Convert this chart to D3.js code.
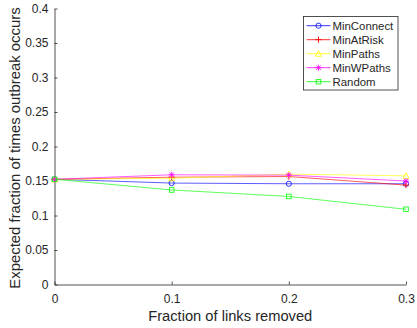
<!DOCTYPE html>
<html>
<head>
<meta charset="utf-8">
<script src="https://cdn.jsdelivr.net/npm/d3@7"></script>
<style>
  body { margin: 0; background: #fff; }
  svg text { font-family: "Liberation Sans", Arial, Helvetica, sans-serif; fill: #262626; }
</style>
</head>
<body>
<svg id="chart" width="417" height="328"></svg>
<script>
// Fraction of links removed
const fractions = [0, 0.1, 0.2, 0.3];

// Expected fraction of times outbreak occurs, per strategy
const minConnect = [0.1525, 0.147, 0.146, 0.146];
const minAtRisk  = [0.1525, 0.1555, 0.1565, 0.144];
const minPaths   = [0.1525, 0.154, 0.160, 0.1575];
const minWPaths  = [0.1525, 0.159, 0.1585, 0.150];
const randomRm   = [0.1525, 0.137, 0.1276, 0.109];

const seriesNames = ["MinConnect", "MinAtRisk", "MinPaths", "MinWPaths", "Random"];
const seriesValues = [minConnect, minAtRisk, minPaths, minWPaths, randomRm];
const seriesColors = ["#0000ff", "#ff0000", "#ffff00", "#ff00ff", "#00ff00"];
const seriesMarkers = ["circle", "plus", "triangle", "star", "square"];

const xTicks = [0, 0.1, 0.2, 0.3];
const yTicks = [0, 0.05, 0.1, 0.15, 0.2, 0.25, 0.3, 0.35, 0.4];

const svg = d3.select("#chart");
const plotLeft = 54.5, plotRight = 406, plotTop = 8.5, plotBottom = 284.5;

const x = d3.scaleLinear().domain([0, 0.3]).range([plotLeft, plotRight]);
const y = d3.scaleLinear().domain([0, 0.4]).range([plotBottom, plotTop]);

// Axes with inward ticks
const axisColor = "#262626";
const xAxis = d3.axisBottom(x).tickValues(xTicks).tickSizeInner(-3).tickSizeOuter(0)
  .tickPadding(9.5).tickFormat(d => d === 0 ? "0" : d3.format(".1f")(d));
const yAxis = d3.axisLeft(y).tickValues(yTicks).tickSizeInner(-3).tickSizeOuter(0)
  .tickPadding(6).tickFormat(d => d === 0 ? "0" : String(+d.toFixed(2)));

const gx = svg.append("g").attr("transform", `translate(0,${plotBottom})`).call(xAxis);
const gy = svg.append("g").attr("transform", `translate(${plotLeft},0)`).call(yAxis);
[gx, gy].forEach(g => {
  g.selectAll("path, line").attr("stroke", axisColor).attr("stroke-width", 0.8);
  g.selectAll("text").attr("font-size", 12).attr("fill", axisColor)
    .style("font-family", "'Liberation Sans', Arial, sans-serif");
});

// Axis labels
svg.append("text").attr("x", (plotLeft + plotRight) / 2).attr("y", 321)
  .attr("text-anchor", "middle").attr("font-size", 14.7).text("Fraction of links removed");
svg.append("text").attr("transform", `translate(19.5,${(plotTop + plotBottom) / 2 + 1.5}) rotate(-90)`)
  .attr("text-anchor", "middle").attr("font-size", 14.9).text("Expected fraction of times outbreak occurs");

// Marker drawing
function drawMarker(g, type, cx, cy, color) {
  const s = 2.6;
  if (type === "circle") {
    g.append("circle").attr("cx", cx).attr("cy", cy).attr("r", s)
      .attr("fill", "none").attr("stroke", color).attr("stroke-width", 0.8);
  } else if (type === "square") {
    g.append("rect").attr("x", cx - s + 0.3).attr("y", cy - s + 0.3).attr("width", 2 * s - 0.6).attr("height", 2 * s - 0.6)
      .attr("fill", "none").attr("stroke", color).attr("stroke-width", 0.8);
  } else if (type === "triangle") {
    g.append("path").attr("d", `M${cx},${cy - s - 0.5}L${cx + s + 0.4},${cy + s}L${cx - s - 0.4},${cy + s}Z`)
      .attr("fill", "none").attr("stroke", color).attr("stroke-width", 0.8);
  } else if (type === "plus") {
    g.append("path").attr("d", `M${cx - s - 0.5},${cy}H${cx + s + 0.5}M${cx},${cy - s - 0.5}V${cy + s + 0.5}`)
      .attr("stroke", color).attr("stroke-width", 0.9);
  } else if (type === "star") {
    const r = s + 0.5, d = r * 0.75;
    g.append("path").attr("d",
      `M${cx - r},${cy}H${cx + r}M${cx},${cy - r}V${cy + r}M${cx - d},${cy - d}L${cx + d},${cy + d}M${cx - d},${cy + d}L${cx + d},${cy - d}`)
      .attr("stroke", color).attr("stroke-width", 0.8);
  }
}

const line = d3.line().x((d, i) => x(fractions[i])).y(d => y(d));
const plot = svg.append("g");
seriesValues.forEach((vals, k) => {
  const g = plot.append("g");
  g.append("path").datum(vals).attr("d", line).attr("fill", "none")
    .attr("stroke", seriesColors[k]).attr("stroke-width", 0.75).attr("stroke-opacity", 0.85);
  vals.forEach((v, i) => drawMarker(g, seriesMarkers[k], x(fractions[i]), y(v), seriesColors[k]));
});

// Legend
const lg = svg.append("g");
lg.append("rect").attr("x", 303.5).attr("y", 16.5).attr("width", 94.5).attr("height", 73.5)
  .attr("fill", "#fff").attr("stroke", "#262626").attr("stroke-width", 0.8);
seriesNames.forEach((name, k) => {
  const ly = 25.7 + k * 14;
  lg.append("line").attr("x1", 306.5).attr("x2", 330.5).attr("y1", ly).attr("y2", ly)
    .attr("stroke", seriesColors[k]).attr("stroke-width", 0.8);
  drawMarker(lg, seriesMarkers[k], 318.5, ly, seriesColors[k]);
  lg.append("text").attr("x", 332.5).attr("y", ly + 4).attr("font-size", 11.4).text(name);
});
</script>
</body>
</html>
